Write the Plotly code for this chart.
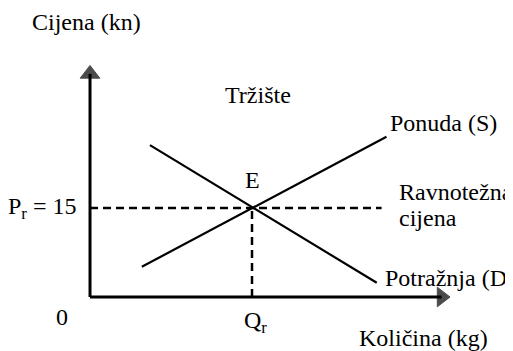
import plotly.graph_objects as go

# quantity / price in chart units (Q_r = 10, P_r = 15)
demand_q = [3.7, 17.7]
demand_p = [25.6, 2.4]
supply_q = [3.2, 18.3]
supply_p = [5.1, 27.0]
eq_q = 10
eq_p = 15
dash_end_q = 18.0
axis_top_p = 37.6
axis_end_q = 21.7

x_range = [-5.062, 26.11]
y_range = [-9.10, 48.71]

fig = go.Figure()

# axes drawn as lines ending in triangle heads
fig.add_trace(go.Scatter(x=[0, 0], y=[0, axis_top_p], mode="lines+markers",
                         line=dict(color="black", width=3),
                         marker=dict(symbol=["circle", "triangle-up"], size=[0, 17], color="black",
                                     line=dict(color="black", width=1)),
                         hoverinfo="skip"))
fig.add_trace(go.Scatter(x=[0, axis_end_q], y=[0, 0], mode="lines+markers",
                         line=dict(color="black", width=3),
                         marker=dict(symbol=["circle", "triangle-right"], size=[0, 17], color="black",
                                     line=dict(color="black", width=1)),
                         hoverinfo="skip"))

# demand and supply
fig.add_trace(go.Scatter(x=demand_q, y=demand_p, mode="lines",
                         line=dict(color="black", width=2.2), hoverinfo="skip"))
fig.add_trace(go.Scatter(x=supply_q, y=supply_p, mode="lines",
                         line=dict(color="black", width=2.2), hoverinfo="skip"))

# equilibrium dashed lines
fig.add_trace(go.Scatter(x=[0, dash_end_q], y=[eq_p, eq_p], mode="lines",
                         line=dict(color="black", width=2.5, dash="8px,5px"), hoverinfo="skip"))
fig.add_trace(go.Scatter(x=[eq_q, eq_q], y=[0, eq_p], mode="lines",
                         line=dict(color="black", width=2.5, dash="8px,5px"), hoverinfo="skip"))

labels = [
    ("Cijena (kn)", -3.7, 46.3, "left"),
    ("Tržište", 8.2, 34.0, "left"),
    ("E", 10.0, 19.8, "center"),
    ("Ponuda (S)", 18.4, 29.3, "left"),
    ("Ravnotežna", 18.95, 17.7, "left"),
    ("cijena", 18.95, 13.3, "left"),
    ("Potražnja (D)", 18.1, 3.2, "left"),
    ("0", -1.73, -3.4, "center"),
    ("Q<sub>r</sub>", 10.2, -4.2, "center"),
    ("Količina (kg)", 16.5, -6.9, "left"),
    ("P<sub>r</sub> = 15", -0.7, 15.0, "right"),
]
for text, x, y, anchor in labels:
    fig.add_annotation(x=x, y=y, xref="x", yref="y", text=text, showarrow=False,
                       xanchor=anchor, yanchor="middle",
                       font=dict(family="serif", size=24, color="black"))

# page body has an 8px margin, so the figure is 8px smaller and starts at (8, 8)
fig.update_xaxes(visible=False, range=x_range)
fig.update_yaxes(visible=False, range=y_range)
fig.update_layout(width=505, height=343, margin=dict(l=0, r=0, t=0, b=0),
                  font=dict(family="serif"),
                  plot_bgcolor="white", showlegend=False)
fig.write_html("out.html")
